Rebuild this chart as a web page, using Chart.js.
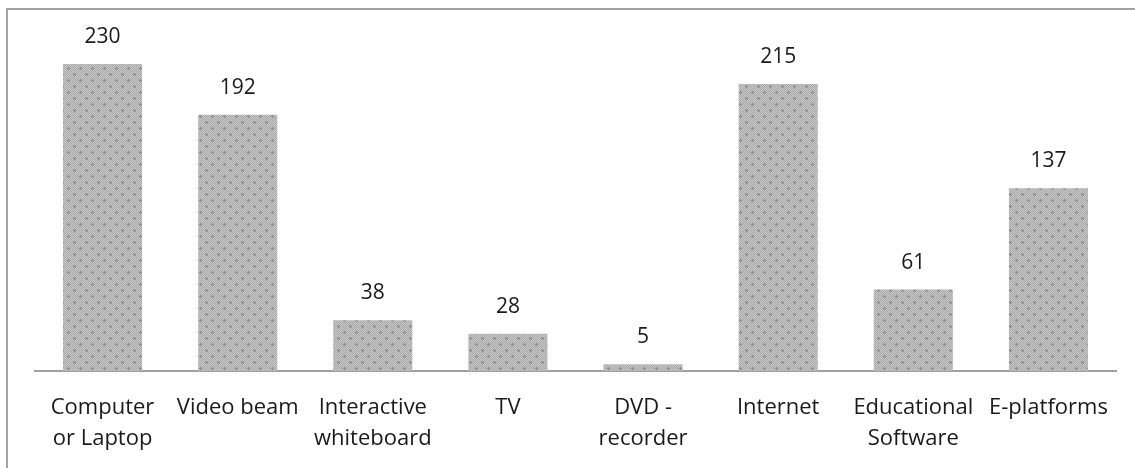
<!DOCTYPE html>
<html>
<head>
<meta charset="utf-8">
<script src="https://cdn.jsdelivr.net/npm/chart.js@4.4.1/dist/chart.umd.min.js"></script>
<style>
  html, body { margin: 0; padding: 0; background: #fff; }
  #wrap { position: relative; width: 1135px; height: 468px; overflow: hidden; }
  #frame {
    position: absolute; left: 6px; top: 8px; width: 1200px; height: 500px;
    border-left: 2px solid #a3a3a3; border-top: 2px solid #a3a3a3;
  }
  #chart { position: absolute; left: 0; top: 0; }
</style>
</head>
<body>
<div id="wrap">
  <div id="frame"></div>
  <canvas id="chart" width="1135" height="468"></canvas>
</div>
<script>
const categories = [
  ['Computer', 'or Laptop'],
  'Video beam',
  ['Interactive', 'whiteboard'],
  'TV',
  ['DVD -', 'recorder'],
  'Internet',
  ['Educational', 'Software'],
  'E-platforms'
];
const counts = [230, 192, 38, 28, 5, 215, 61, 137];

const FONT = "'Open Sans', sans-serif";

// dotted grey fill used for the bars
function makePattern() {
  const c = document.createElement('canvas');
  c.width = 12; c.height = 12;
  const g = c.getContext('2d');
  for (let y = 0; y < 12; y++) {
    for (let x = 0; x < 12; x++) {
      g.fillStyle = ((x + y) % 2 === 0) ? '#a8a8a8' : '#c8c8c8';
      g.fillRect(x, y, 1, 1);
    }
  }
  g.fillStyle = '#929292';
  g.fillRect(2, 1, 1, 3);
  g.fillRect(1, 2, 3, 1);
  g.fillRect(8, 7, 1, 3);
  g.fillRect(7, 8, 3, 1);
  return g.createPattern(c, 'repeat');
}

const valueLabels = {
  id: 'valueLabels',
  afterDatasetsDraw(chart) {
    const { ctx } = chart;
    const meta = chart.getDatasetMeta(0);
    ctx.save();
    ctx.font = '21px ' + FONT;
    ctx.fillStyle = '#1a1a1a';
    ctx.textAlign = 'center';
    ctx.textBaseline = 'middle';
    meta.data.forEach((bar, i) => {
      ctx.fillText(String(counts[i]), bar.x, bar.y - 27);
    });
    ctx.restore();
  }
};

const ctx = document.getElementById('chart').getContext('2d');
new Chart(ctx, {
  type: 'bar',
  data: {
    labels: categories,
    datasets: [{
      data: counts,
      backgroundColor: makePattern(),
      borderWidth: 0,
      categoryPercentage: 1,
      barPercentage: 0.585
    }]
  },
  options: {
    responsive: false,
    animation: false,
    layout: { padding: { left: 35, right: 19, top: 24, bottom: 0 } },
    plugins: { legend: { display: false }, tooltip: { enabled: false } },
    scales: {
      x: {
        offset: true,
        grid: { display: false, drawTicks: false },
        border: { display: true, color: '#a0a0a0', width: 2, dash: [2, 2] },
        ticks: {
          color: '#1a1a1a',
          padding: 21,
          maxRotation: 0,
          autoSkip: false,
          font: { family: FONT, size: 22, lineHeight: 1.41 }
        },
        afterFit(scale) {
          scale.height = 97;
        }
      },
      y: {
        display: false,
        min: 0,
        max: 260
      }
    }
  },
  plugins: [valueLabels]
});
</script>
</body>
</html>
